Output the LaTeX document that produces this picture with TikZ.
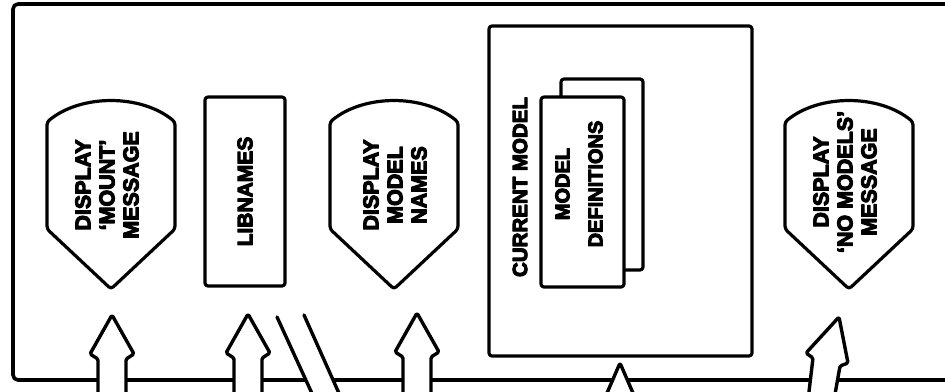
\documentclass[tikz,border=0pt]{standalone}
\usepackage{fontspec}
\newfontfamily\lab{Liberation Sans}[BoldFeatures={FakeBold=5}]
\begin{document}
\begin{tikzpicture}[x=1pt,y=-1pt,line join=round,
  lbl/.style={font=\lab\bfseries\fontsize{21.5}{24}\selectfont,align=center,rotate=90,inner sep=0pt},
  lblsmall/.style={font=\lab\bfseries\fontsize{20.5}{24}\selectfont,align=center,rotate=90,inner sep=0pt},
  boxst/.style={draw,line width=3.2pt,rounded corners=3pt},
  blockarrow/.style={draw,fill=white,line width=3.4pt,rounded corners=1.5pt},
  shieldst/.style={draw,line width=3.2pt,rounded corners=3pt},
  shieldpic/.pic={\path[shieldst] (-64,229) -- (-64,122) .. controls (-30,94) and (30,94) .. (64,122) -- (64,229) -- (0,289) -- cycle;}]
\useasboundingbox (0,0) rectangle (945,391);
\clip (0,0) rectangle (945,391);
\fill[white] (0,0) rectangle (945,391);

% outer frame
\draw[line width=3.6pt,rounded corners=5pt] (960,4) -- (13,4) -- (13,380) -- (960,380);

% shields and boxes
\pic at (111,0) {shieldpic};
\pic at (394,0) {shieldpic};
\pic at (849,0) {shieldpic};
\node[lbl] (s1) at (107,185) {DISPLAY\\‘MOUNT’\\MESSAGE};
\node[lbl] (s2) at (395,185) {DISPLAY\\MODEL\\NAMES};
\node[lbl] (s3) at (845,182) {DISPLAY\\‘NO MODELS’\\MESSAGE};

\node[boxst,rotate=90,minimum width=189pt,minimum height=80pt,inner sep=0pt,
      font=\lab\bfseries\fontsize{21}{24}\selectfont] (lib) at (245,191.5) {LIBNAMES};

\node[boxst,minimum width=263pt,minimum height=330pt] (cm) at (620.5,191) {};
\node[lblsmall] (cmt) at (520,187) {CURRENT MODEL};
\node[boxst,minimum width=82pt,minimum height=191pt] (mdb) at (602,174.5) {};
\node[boxst,fill=white,minimum width=83pt,minimum height=190pt] (mdf) at (582.5,192) {};
\node[lblsmall,font=\lab\bfseries\fontsize{20}{33}\selectfont] (mdt) at (579,184) {MODEL\\DEFINITIONS};

% block arrows
\coordinate (t1) at (112,315);
\coordinate (t2) at (248,314);
\coordinate (t3) at (417,313);
\path[blockarrow] ([shift={(t1)}]-14,80) -- ([shift={(t1)}]-14,44) -- ([shift={(t1)}]-22,39) -- (t1) -- ([shift={(t1)}]22,39) -- ([shift={(t1)}]14,44) -- ([shift={(t1)}]14,80);
\path[blockarrow] ([shift={(t2)}]-14,80) -- ([shift={(t2)}]-14,44) -- ([shift={(t2)}]-22,39) -- (t2) -- ([shift={(t2)}]22,39) -- ([shift={(t2)}]14,44) -- ([shift={(t2)}]14,80);
\path[blockarrow] ([shift={(t3)}]-14,80) -- ([shift={(t3)}]-14,44) -- ([shift={(t3)}]-22,39) -- (t3) -- ([shift={(t3)}]22,39) -- ([shift={(t3)}]14,44) -- ([shift={(t3)}]14,80);
\coordinate (t4) at (620,363);
\path[blockarrow] (604,400) -- (t4) -- (636,400);
\coordinate (t5) at (839,317);
\path[blockarrow] (808,400) -- (813,358) -- (806,353) -- (t5) -- (848,363) -- (840,366) -- (834,400);

% diagonal band
\fill[white] (277,317) -- (304,315) -- (342,400) -- (315,400) -- cycle;
\draw[line width=3.4pt,line cap=round] (277,317) -- (315,400);
\draw[line width=3.4pt,line cap=round] (304,315) -- (342,400);
\end{tikzpicture}
\end{document}
